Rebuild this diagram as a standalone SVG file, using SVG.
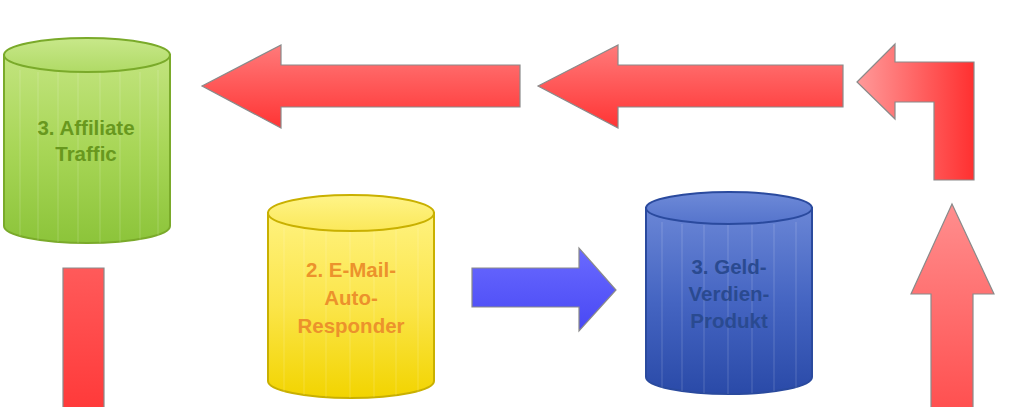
<svg xmlns="http://www.w3.org/2000/svg" width="1024" height="407" viewBox="0 0 1024 407">
<defs>
<linearGradient id="gGreen" x1="0" y1="0" x2="0" y2="1"><stop offset="0" stop-color="#c2e47e"/><stop offset="0.5" stop-color="#a8d657"/><stop offset="1" stop-color="#8cc43a"/></linearGradient>
<linearGradient id="gGreenTop" x1="0" y1="0" x2="0" y2="1"><stop offset="0" stop-color="#c8e88a"/><stop offset="1" stop-color="#b0da66"/></linearGradient>
<linearGradient id="gYellow" x1="0" y1="0" x2="0" y2="1"><stop offset="0" stop-color="#fff27e"/><stop offset="0.5" stop-color="#fbe54a"/><stop offset="1" stop-color="#f2d400"/></linearGradient>
<linearGradient id="gYellowTop" x1="0" y1="0" x2="0" y2="1"><stop offset="0" stop-color="#fff488"/><stop offset="1" stop-color="#fbe85a"/></linearGradient>
<linearGradient id="gBlue" x1="0" y1="0" x2="0" y2="1"><stop offset="0" stop-color="#6a86d6"/><stop offset="0.5" stop-color="#4565c2"/><stop offset="1" stop-color="#2a4aa8"/></linearGradient>
<linearGradient id="gBlueTop" x1="0" y1="0" x2="0" y2="1"><stop offset="0" stop-color="#6e8ad8"/><stop offset="1" stop-color="#5574cc"/></linearGradient>
<linearGradient id="gRedV" x1="0" y1="0" x2="0" y2="1"><stop offset="0" stop-color="#ff7a7a"/><stop offset="1" stop-color="#ff3434"/></linearGradient>
<linearGradient id="gRedH" x1="0" y1="0" x2="1" y2="0"><stop offset="0" stop-color="#ff9a9a"/><stop offset="1" stop-color="#ff3030"/></linearGradient>
<linearGradient id="gRedUp" x1="0" y1="0" x2="0" y2="1"><stop offset="0" stop-color="#ff8e8e"/><stop offset="1" stop-color="#ff5050"/></linearGradient>
<linearGradient id="gRedBar" x1="0" y1="0" x2="0" y2="1"><stop offset="0" stop-color="#ff5a5a"/><stop offset="1" stop-color="#ff3a3a"/></linearGradient>
<linearGradient id="gBlueArrow" x1="0" y1="0" x2="0" y2="1"><stop offset="0" stop-color="#6a6aff"/><stop offset="1" stop-color="#4848f4"/></linearGradient>
</defs>
<style>
.arrow{stroke:#8a8a8a;stroke-width:1.2;stroke-linejoin:miter}
.lbl{font-family:"Liberation Sans",Arial,sans-serif;font-weight:bold;font-size:20.5px;text-anchor:middle}
.stripe{stroke:#ffffff;stroke-opacity:0.18;stroke-width:1}
</style>
<rect width="1024" height="407" fill="#ffffff"/>
<g id="connectors">
<path class="arrow" fill="url(#gRedV)" d="M202,86 L281,45 L281,65 L520,65 L520,107 L281,107 L281,128 Z"/>
<path class="arrow" fill="url(#gRedV)" d="M538,86 L618,45 L618,65 L843,65 L843,107 L618,107 L618,128 Z"/>
<path class="arrow" fill="url(#gRedH)" d="M857,82 L895,44 L895,62 L974,62 L974,180 L934,180 L934,102 L895,102 L895,119 Z"/>
<path class="arrow" fill="url(#gRedUp)" d="M952,204 L994,294 L973,294 L973,408 L931,408 L931,294 L911,294 Z"/>
<path class="arrow" fill="url(#gRedBar)" d="M63,408 L63,268 L104,268 L104,408"/>
<path class="arrow" fill="url(#gBlueArrow)" d="M472,268 L579,268 L579,248 L616,290 L579,331 L579,307 L472,307 Z"/>
</g>
<g id="node-affiliate">
<path d="M4,55 L4,226 A83,17 0 0 0 170,226 L170,55 Z" fill="url(#gGreen)" stroke="#7aaa2a" stroke-width="2"/>
<g class="stripe"><line x1="20" y1="70" x2="20" y2="236"/><line x1="38" y1="72" x2="38" y2="240"/><line x1="58" y1="72" x2="58" y2="242"/><line x1="78" y1="72" x2="78" y2="243"/><line x1="100" y1="72" x2="100" y2="243"/><line x1="120" y1="72" x2="120" y2="242"/><line x1="140" y1="72" x2="140" y2="240"/><line x1="158" y1="70" x2="158" y2="236"/></g>
<ellipse cx="87" cy="55" rx="83" ry="17" fill="url(#gGreenTop)" stroke="#7aaa2a" stroke-width="2"/>
<text class="lbl" x="86" y="135" fill="#68981e">3. Affiliate</text>
<text class="lbl" x="86" y="161" fill="#68981e">Traffic</text>
</g>
<g id="node-autoresponder">
<path d="M268,213 L268,381 A83,17 0 0 0 434,381 L434,213 Z" fill="url(#gYellow)" stroke="#c9b000" stroke-width="2"/>
<g class="stripe"><line x1="284" y1="228" x2="284" y2="392"/><line x1="304" y1="230" x2="304" y2="395"/><line x1="326" y1="231" x2="326" y2="397"/><line x1="350" y1="231" x2="350" y2="398"/><line x1="374" y1="231" x2="374" y2="397"/><line x1="396" y1="230" x2="396" y2="395"/><line x1="418" y1="228" x2="418" y2="392"/></g>
<ellipse cx="351" cy="213" rx="83" ry="18" fill="url(#gYellowTop)" stroke="#c9b000" stroke-width="2"/>
<text class="lbl" x="351" y="277" fill="#ec922c">2. E-Mail-</text>
<text class="lbl" x="351" y="305" fill="#ec922c">Auto-</text>
<text class="lbl" x="351" y="333" fill="#ec922c">Responder</text>
</g>
<g id="node-produkt">
<path d="M646,208 L646,377 A83,17 0 0 0 812,377 L812,208 Z" fill="url(#gBlue)" stroke="#2a4a9e" stroke-width="2"/>
<g class="stripe"><line x1="662" y1="222" x2="662" y2="388"/><line x1="682" y1="224" x2="682" y2="391"/><line x1="704" y1="225" x2="704" y2="393"/><line x1="728" y1="225" x2="728" y2="394"/><line x1="752" y1="225" x2="752" y2="393"/><line x1="774" y1="224" x2="774" y2="391"/><line x1="796" y1="222" x2="796" y2="388"/></g>
<ellipse cx="729" cy="208" rx="83" ry="16" fill="url(#gBlueTop)" stroke="#2a4a9e" stroke-width="2"/>
<text class="lbl" x="729" y="274" fill="#2a4a90">3. Geld-</text>
<text class="lbl" x="729" y="301" fill="#2a4a90">Verdien-</text>
<text class="lbl" x="729" y="328" fill="#2a4a90">Produkt</text>
</g>
</svg>
